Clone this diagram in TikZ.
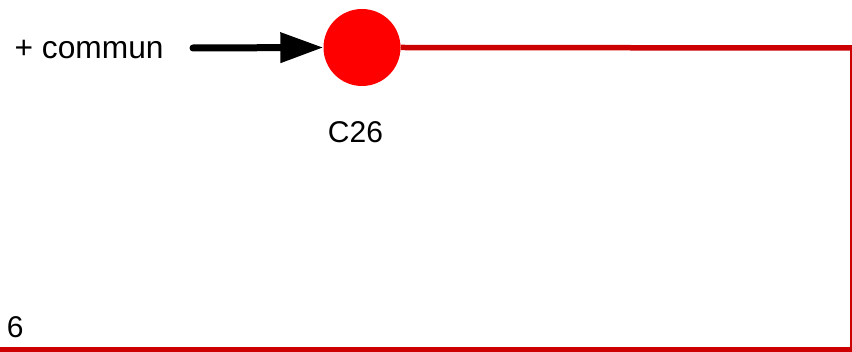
\documentclass[tikz,border=0pt]{standalone}
\usepackage{fontspec}
\setmainfont{Liberation Sans}
\usetikzlibrary{arrows.meta}
\definecolor{wirered}{HTML}{CC0000}
\definecolor{dotred}{HTML}{FF0000}
\begin{document}
\begin{tikzpicture}[x=1pt,y=-1pt,
  lbl/.style={inner sep=0pt,font=\fontsize{30}{36}\selectfont},
  wire/.style={draw=wirered,line width=5.5pt},
  feed/.style={draw=black,line width=7pt,line cap=round,-{Triangle[length=43pt,width=29pt]}}]
\useasboundingbox (0,0) rectangle (852,352);
\node[circle,fill=dotred,minimum size=77pt,inner sep=0pt] (c26) at (362,47.5) {};
\node[lbl,anchor=base west,font=\fontsize{31.7}{38}\selectfont] (commun) at (14.5,59) {+ commun};
\node[lbl,anchor=base] (c26lbl) at (355.5,143) {C26};
\node[lbl,anchor=base west] (six) at (6.7,338) {6};
\coordinate (tr) at (852,48);
\coordinate (rt) at (850.8,45.5);
\coordinate (rb) at (850.8,352);
\coordinate (br) at (852,349.6);
\coordinate (bl) at (0,349.6);
\coordinate (fs) at (193,48);
\draw[wire] (c26.east) -- (tr);
\draw[wire,line width=2.5pt] (rt) -- (rb);
\draw[wire,line width=4.8pt] (br) -- (bl);
\draw[feed] (fs) -- (c26.west);
\end{tikzpicture}
\end{document}
